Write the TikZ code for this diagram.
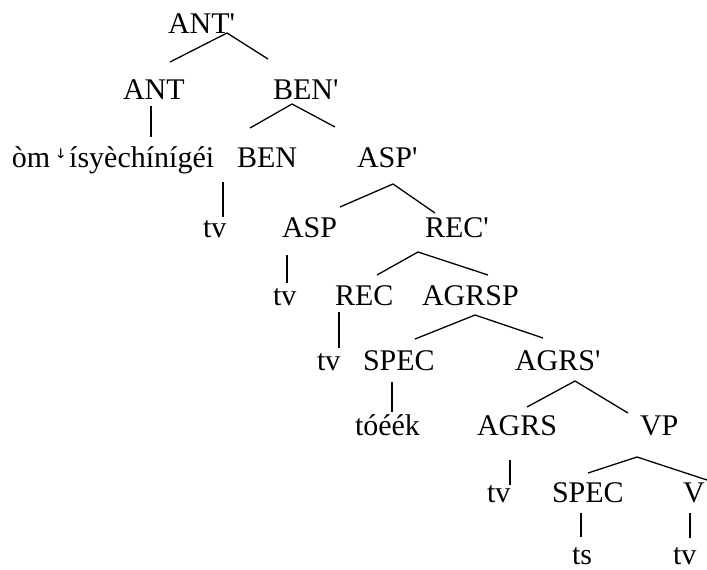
\documentclass[tikz,border=0pt]{standalone}
\usepackage{fontspec}
\setmainfont{Liberation Serif}[Ligatures=TeXOff]
\newfontfamily\dvsfont{DejaVu Sans}
\begin{document}
\begin{tikzpicture}[x=1pt,y=-1pt,
  lab/.style={anchor=base west,inner sep=0pt,outer sep=0pt,font=\fontsize{30}{36}\selectfont},
  edge/.style={line width=1.3pt}]
\useasboundingbox (0,0) rectangle (707,570);
% nodes (left x, baseline y)
\node[lab] (antbar) at (168,34) {ANT'};
\node[lab] (ant) at (123,99) {ANT};
\node[lab] (benbar) at (273,99) {BEN'};
\node[lab] (verb) at (12,167) {òm\hspace{6pt}\raisebox{1pt}{\dvsfont\fontsize{24}{24}\selectfont ꜜ}\hspace{4pt}ísyèchínígéi};
\node[lab] (ben) at (237,167) {BEN};
\node[lab] (aspbar) at (357,167) {ASP'};
\node[lab] (tvA) at (203,237) {tv};
\node[lab] (asp) at (282,237) {ASP};
\node[lab] (recbar) at (425,237) {REC'};
\node[lab] (tvB) at (273,305) {tv};
\node[lab] (rec) at (335,305) {REC};
\node[lab] (agrsp) at (422,305) {AGRSP};
\node[lab] (tvC) at (317,370) {tv};
\node[lab] (specA) at (363,370) {SPEC};
\node[lab] (agrsbar) at (515,370) {AGRS'};
\node[lab] (toeek) at (355,435) {tóéék};
\node[lab] (agrs) at (477,435) {AGRS};
\node[lab] (vp) at (640,435) {VP};
\node[lab] (tvD) at (487,502) {tv};
\node[lab] (specB) at (552,502) {SPEC};
\node[lab] (v) at (683,502) {V};
\node[lab] (ts) at (572,564) {ts};
\node[lab] (tvE) at (673,564) {tv};
% connector end points
\coordinate (antbar-d) at (227,33);
\coordinate (ant-u) at (170,62);
\coordinate (benbar-u) at (268,59);
\coordinate (ant-d) at (151,106);
\coordinate (verb-u) at (151,137);
\coordinate (benbar-d) at (292,104);
\coordinate (ben-u) at (250,128);
\coordinate (aspbar-u) at (335,127);
\coordinate (ben-d) at (223,182);
\coordinate (tvA-u) at (223,217);
\coordinate (aspbar-d) at (393,184);
\coordinate (asp-u) at (340,207);
\coordinate (recbar-u) at (435,213);
\coordinate (asp-d) at (287,255);
\coordinate (tvB-u) at (287,283);
\coordinate (recbar-d) at (418,252);
\coordinate (rec-u) at (377,275);
\coordinate (agrsp-u) at (488,275);
\coordinate (rec-d) at (339,312);
\coordinate (tvC-u) at (339,348);
\coordinate (agrsp-d) at (475,315);
\coordinate (specA-u) at (415,339);
\coordinate (agrsbar-u) at (543,338);
\coordinate (specA-d) at (392,382);
\coordinate (toeek-u) at (392,412);
\coordinate (agrsbar-d) at (575,381);
\coordinate (agrs-u) at (527,407);
\coordinate (vp-u) at (628,413);
\coordinate (agrs-d) at (510,460);
\coordinate (tvD-u) at (510,485);
\coordinate (vp-d) at (637,457);
\coordinate (specB-u) at (588,473);
\coordinate (v-u) at (707,480);
\coordinate (specB-d) at (581,513);
\coordinate (ts-u) at (581,537);
\coordinate (v-d) at (690,513);
\coordinate (tvE-u) at (690,538);
% connectors
\draw[edge] (ant-u) -- (antbar-d) -- (benbar-u);
\draw[edge] (ant-d) -- (verb-u);
\draw[edge] (ben-u) -- (benbar-d) -- (aspbar-u);
\draw[edge] (ben-d) -- (tvA-u);
\draw[edge] (asp-u) -- (aspbar-d) -- (recbar-u);
\draw[edge] (asp-d) -- (tvB-u);
\draw[edge] (rec-u) -- (recbar-d) -- (agrsp-u);
\draw[edge] (rec-d) -- (tvC-u);
\draw[edge] (specA-u) -- (agrsp-d) -- (agrsbar-u);
\draw[edge] (specA-d) -- (toeek-u);
\draw[edge] (agrs-u) -- (agrsbar-d) -- (vp-u);
\draw[edge] (agrs-d) -- (tvD-u);
\draw[edge] (specB-u) -- (vp-d) -- (v-u);
\draw[edge] (specB-d) -- (ts-u);
\draw[edge] (v-d) -- (tvE-u);
\end{tikzpicture}
\end{document}
